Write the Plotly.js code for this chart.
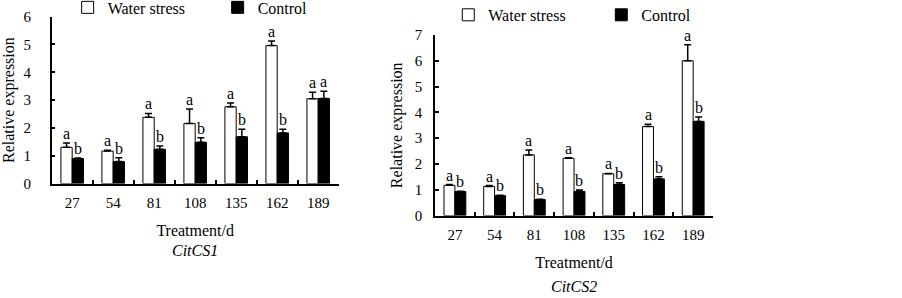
<!DOCTYPE html>
<html>
<head>
<meta charset="utf-8">
<script src="https://cdn.plot.ly/plotly-3.0.1.min.js"></script>
<style>html,body{margin:0;padding:0;background:#fff;}#chart{width:902px;height:298px;}</style>
</head>
<body>
<div id="chart"></div>
<script>
const days = ['27', '54', '81', '108', '135', '162', '189'];
const seriesNames = ['Water stress', 'Control'];
const geneNames = ['CitCS1', 'CitCS2'];
const axisTitleX = 'Treatment/d';
const axisTitleY = 'Relative expression';

const cs1Water = [1.30, 1.17, 2.38, 2.16, 2.76, 4.96, 3.05];
const cs1WaterErr = [0.16, 0.03, 0.14, 0.52, 0.14, 0.17, 0.23];
const cs1Control = [0.90, 0.79, 1.23, 1.48, 1.68, 1.82, 3.06];
const cs1ControlErr = [0.02, 0.14, 0.12, 0.17, 0.27, 0.13, 0.26];
const cs1WaterLetters = ['a', 'a', 'a', 'a', 'a', 'a', 'a'];
const cs1ControlLetters = ['b', 'b', 'b', 'b', 'b', 'b', 'a'];

const cs2Water = [1.17, 1.13, 2.35, 2.22, 1.62, 3.45, 6.00];
const cs2WaterErr = [0.03, 0.03, 0.19, 0.02, 0.01, 0.09, 0.62];
const cs2Control = [0.93, 0.77, 0.62, 0.93, 1.20, 1.42, 3.65];
const cs2ControlErr = [0.01, 0.02, 0.01, 0.06, 0.07, 0.08, 0.17];
const cs2WaterLetters = ['a', 'a', 'a', 'a', 'a', 'a', 'a'];
const cs2ControlLetters = ['b', 'b', 'b', 'b', 'b', 'b', 'b'];

const FONT = 'Liberation Serif, Times New Roman, serif';
const BARGAP = 0.45;

function zeros(n) { return new Array(n).fill(0); }

function barTrace(name, vals, errs, fill, xa, ya, legend, show) {
  return {
    type: 'bar', name: name, x: days, y: vals, xaxis: xa, yaxis: ya,
    legend: legend, showlegend: show,
    marker: { color: fill, line: { color: '#000', width: 1 } },
    error_y: { type: 'data', symmetric: false, array: errs, arrayminus: zeros(vals.length),
               color: '#000', thickness: 1.5, width: 3.5 },
    hoverinfo: 'x+y'
  };
}

const traces = [
  barTrace(seriesNames[0], cs1Water, cs1WaterErr, '#ffffff', 'x', 'y', 'legend', true),
  barTrace(seriesNames[1], cs1Control, cs1ControlErr, '#000000', 'x', 'y', 'legend', true),
  barTrace(seriesNames[0], cs2Water, cs2WaterErr, '#ffffff', 'x2', 'y2', 'legend2', true),
  barTrace(seriesNames[1], cs2Control, cs2ControlErr, '#000000', 'x2', 'y2', 'legend2', true)
];

// significance letters placed above each bar's error bar
const half = (1 - BARGAP) / 4;
const annotations = [];
function addLetters(vals, errs, letters, side, xref, yref) {
  vals.forEach(function (v, i) {
    annotations.push({
      xref: xref, yref: yref, x: i + side * half, y: v + errs[i],
      text: letters[i], showarrow: false, yanchor: 'bottom', xanchor: 'center',
      font: { family: FONT, size: 16, color: '#000' }, borderpad: 0
    });
  });
}
addLetters(cs1Water, cs1WaterErr, cs1WaterLetters, -1, 'x', 'y');
addLetters(cs1Control, cs1ControlErr, cs1ControlLetters, 1, 'x', 'y');
addLetters(cs2Water, cs2WaterErr, cs2WaterLetters, -1, 'x2', 'y2');
addLetters(cs2Control, cs2ControlErr, cs2ControlLetters, 1, 'x2', 'y2');

annotations.push({ xref: 'x domain', yref: 'paper', x: 0.5, y: 0.161, text: '<i>' + geneNames[0] + '</i>',
  showarrow: false, xanchor: 'center', yanchor: 'middle', font: { family: FONT, size: 16, color: '#000' } });
annotations.push({ xref: 'x2 domain', yref: 'paper', x: 0.5, y: 0.037, text: '<i>' + geneNames[1] + '</i>',
  showarrow: false, xanchor: 'center', yanchor: 'middle', font: { family: FONT, size: 16, color: '#000' } });

function xAxis(domain, anchor) {
  return {
    domain: domain, anchor: anchor, type: 'category', tickson: 'boundaries',
    ticks: 'inside', ticklen: 4, tickwidth: 1.5, tickcolor: '#000',
    showline: true, linewidth: 1.5, linecolor: '#000', showgrid: false, zeroline: false,
    tickfont: { family: FONT, size: 15, color: '#000' }, ticklabelstandoff: 5,
    title: { text: axisTitleX, font: { family: FONT, size: 16, color: '#000' }, standoff: 15 },
    fixedrange: true
  };
}
function yAxis(domain, anchor, range, standoff) {
  return {
    domain: domain, anchor: anchor, range: range, dtick: 1, tick0: 0,
    ticks: 'inside', ticklen: 4, tickwidth: 1.5, tickcolor: '#000',
    showline: true, linewidth: 1.5, linecolor: '#000', showgrid: false, zeroline: false,
    tickfont: { family: FONT, size: 15, color: '#000' }, ticklabelstandoff: standoff,
    title: { text: axisTitleY, font: { family: FONT, size: 16, color: '#000' }, standoff: 8 },
    fixedrange: true
  };
}

const layout = {
  width: 902, height: 298,
  margin: { l: 0, r: 0, t: 0, b: 0, autoexpand: false },
  paper_bgcolor: '#fff', plot_bgcolor: '#fff',
  font: { family: FONT, size: 15, color: '#000' },
  barmode: 'group', bargap: BARGAP, bargroupgap: 0,
  xaxis: xAxis([0.0573, 0.3755], 'y'),
  yaxis: yAxis([0.3842, 0.944], 'x', [0, 6], 16),
  xaxis2: xAxis([0.4823, 0.7905], 'y2'),
  yaxis2: yAxis([0.2768, 0.8826], 'x2', [0, 7], 8),
  legend: { orientation: 'h', x: 0.075, xanchor: 'left', y: 0.975, yanchor: 'middle',
            font: { family: FONT, size: 16, color: '#000' }, bgcolor: 'rgba(0,0,0,0)',
            entrywidth: 105, traceorder: 'normal' },
  legend2: { orientation: 'h', x: 0.497, xanchor: 'left', y: 0.95, yanchor: 'middle',
             font: { family: FONT, size: 16, color: '#000' }, bgcolor: 'rgba(0,0,0,0)',
             entrywidth: 108, traceorder: 'normal' },
  annotations: annotations,
  showlegend: true
};

Plotly.newPlot('chart', traces, layout, { displayModeBar: false, staticPlot: false });
</script>
</body>
</html>
